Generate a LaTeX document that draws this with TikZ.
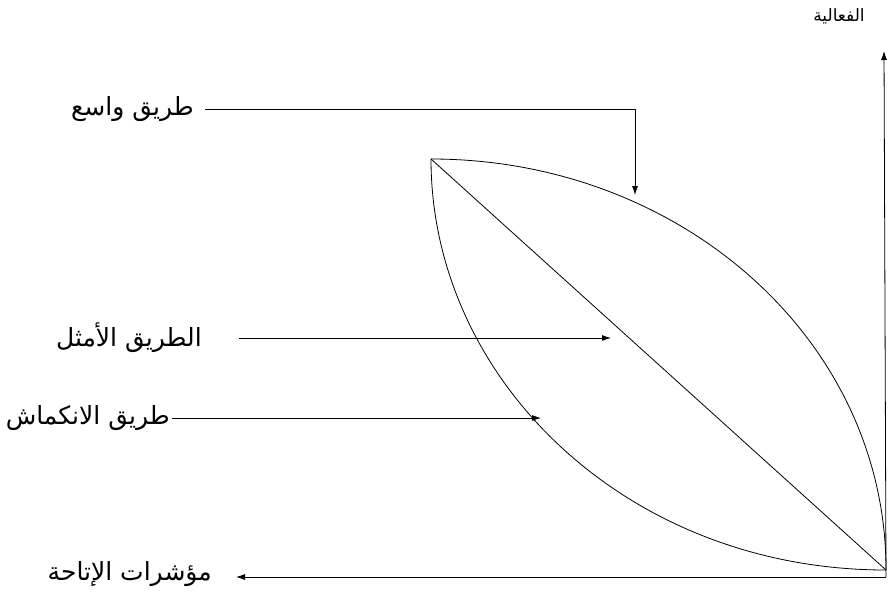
\documentclass[tikz,border=0pt]{standalone}
\usepackage{fontspec}
\newfontfamily\arabicfont[Script=Arabic]{DejaVu Sans}
\TeXXeTstate=1
\usetikzlibrary{arrows.meta}
\begin{document}
\begin{tikzpicture}[x=1pt,y=-1pt,
  line/.style={line width=0.8pt,black},
  arr/.style={line width=0.8pt,-{Latex[length=9pt,width=6pt]}},
  lbl/.style={font=\arabicfont\fontsize{25}{28}\selectfont,inner sep=2pt},
  slbl/.style={font=\arabicfont\fontsize{17}{20}\selectfont,inner sep=2pt}]
\useasboundingbox (0,0) rectangle (890,599);
% axes
\coordinate (O) at (886,577);
\coordinate (Ytop) at (884,51);
\coordinate (Xend) at (236,577);
\draw[arr] (O) -- (Ytop);
\draw[arr] (O) -- (Xend);
\node[slbl] (ylab) at (839,16) {\beginR الفعالية\endR};
\node[lbl,anchor=east] (xlab) at (214,574) {\beginR مؤشرات الإتاحة\endR};
% curves
\coordinate (A) at (431,159);
\coordinate (B) at (886,570);
\draw[line] (A) -- (B);
\draw[line] (A) .. controls (681,159) and (886,340) .. (B);
\draw[line] (A) .. controls (431,379) and (626,570) .. (B);
% labels and arrows
\node[lbl,anchor=east] (wide) at (196,109) {\beginR طريق واسع\endR};
\coordinate (t1) at (635,195);
\draw[arr] ([xshift=9pt]wide.east) -| (t1);
\node[lbl,anchor=east] (opt) at (204,338) {\beginR الطريق الأمثل\endR};
\coordinate (t2) at (611,338);
\draw[arr] ([xshift=35pt]opt.east) -- (t2);
\node[lbl,anchor=east] (shr) at (172,418) {\beginR طريق الانكماش\endR};
\coordinate (t3) at (541,418);
\draw[arr] (shr.east) -- (t3);
\end{tikzpicture}
\end{document}
